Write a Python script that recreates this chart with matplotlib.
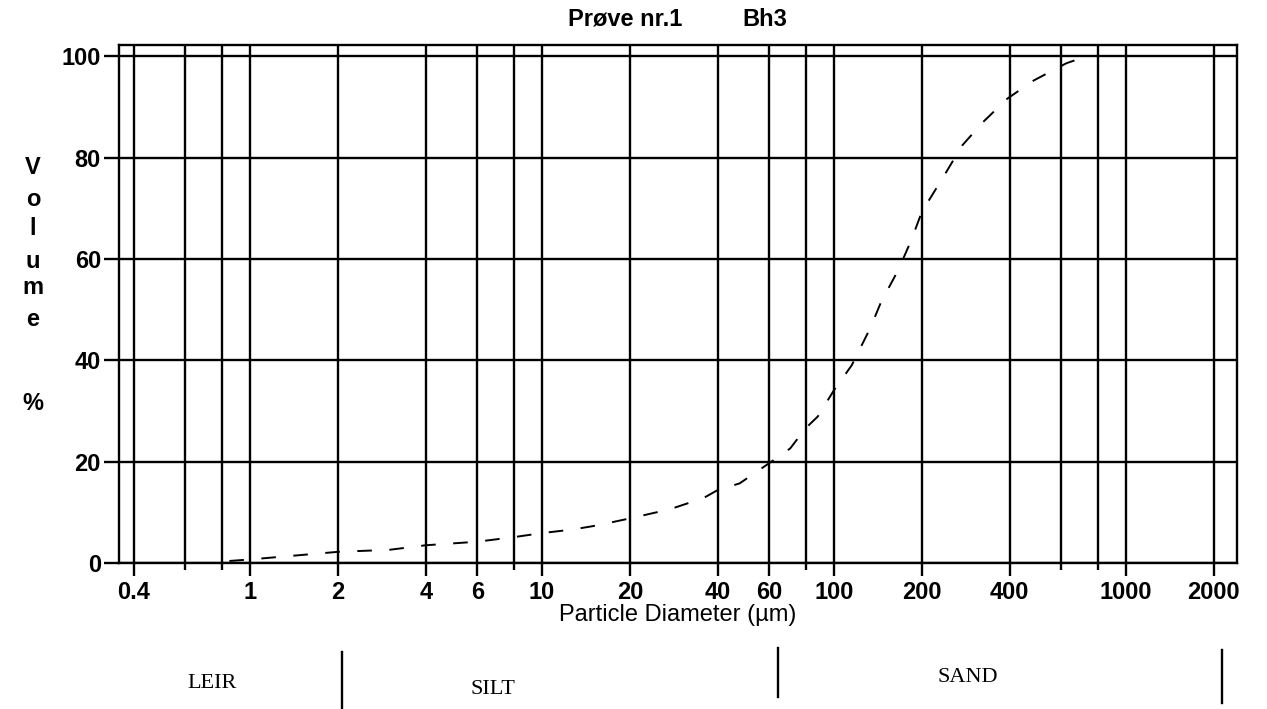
import numpy as np
import matplotlib
matplotlib.use("Agg")
import matplotlib.pyplot as plt
from matplotlib.ticker import FixedLocator, NullFormatter

plt.rcParams['font.family'] = ['Liberation Sans', 'DejaVu Sans']

# cumulative volume curve
diameter = [0.85, 1, 2, 3, 4, 6, 8, 10, 12.7, 15.4, 20, 27.4, 35.7, 40, 47.5, 60,
            70.8, 80, 88, 100, 115, 133, 145, 166, 184, 200, 237, 275, 324, 392,
            483, 625, 670]
volume = [0.4, 0.7, 2.2, 2.6, 3.5, 4.2, 5.1, 5.9, 6.6, 7.4, 8.8, 10.6, 12.8, 14.4,
          15.7, 19.7, 22.6, 26.6, 28.9, 34.1, 39.0, 46.3, 51.5, 57.8, 63.7, 69.3,
          76.2, 82.4, 87.0, 91.6, 95.2, 98.6, 99.2]

major_ticks = [0.4, 1, 2, 4, 6, 10, 20, 40, 60, 100, 200, 400, 1000, 2000]
major_labels = ['0.4', '1', '2', '4', '6', '10', '20', '40', '60', '100', '200',
                '400', '1000', '2000']
minor_ticks = [0.6, 0.8, 8, 80, 600, 800]
y_ticks = [0, 20, 40, 60, 80, 100]

title_left = 'Prøve nr.1'
title_right = 'Bh3'
xlabel = 'Particle Diameter (µm)'
classes = ['LEIR', 'SILT', 'SAND']

W, H = 1267, 709
fig = plt.figure(figsize=(W / 100, H / 100), dpi=100)
ax = fig.add_axes([119 / W, 1 - 563 / H, (1237 - 119) / W, (563 - 45) / H])

ax.set_xscale('log')
ax.set_xlim(0.356, 2400)
ax.set_ylim(0, 102.2)

ax.xaxis.set_major_locator(FixedLocator(major_ticks))
ax.set_xticklabels(major_labels)
ax.xaxis.set_minor_locator(FixedLocator(minor_ticks))
ax.xaxis.set_minor_formatter(NullFormatter())
ax.set_yticks(y_ticks)

lw = 1.7
for t in major_ticks + minor_ticks:
    ax.axvline(t, color='black', lw=lw, zorder=1)
for t in y_ticks:
    ax.axhline(t, color='black', lw=lw, zorder=1)

ax.tick_params(axis='x', which='major', length=9, width=lw, direction='out',
               pad=4, labelsize=17)
ax.tick_params(axis='x', which='minor', length=5, width=lw, direction='out')
ax.tick_params(axis='y', length=11, width=lw, direction='out', pad=2, labelsize=17)
for lab in ax.get_xticklabels() + ax.get_yticklabels():
    lab.set_fontweight('bold')
for s in ax.spines.values():
    s.set_linewidth(lw)

ax.plot(diameter, volume, color='black', lw=1.4, dashes=(7.5, 9), zorder=3)

fig.text(568 / W, 1 - 19 / H, title_left, fontsize=17, fontweight='bold',
         ha='left', va='center')
fig.text(742 / W, 1 - 19 / H, title_right, fontsize=17, fontweight='bold',
         ha='left', va='center')

ax.set_xlabel(xlabel, fontsize=17, labelpad=0)

# vertical "Volume %" label, one letter per line
ylab_letters = ['V', 'o', 'l', 'u', 'm', 'e', '%']
ylab_pos = [167, 199, 229, 261, 288, 320, 403]
for ch, yy in zip(ylab_letters, ylab_pos):
    fig.text(33 / W, 1 - yy / H, ch, fontsize=17, fontweight='bold',
             ha='center', va='center')

# soil class band under the axis
serif = ['Liberation Serif', 'DejaVu Serif']
fig.text(212 / W, 1 - 683 / H, classes[0], fontsize=16, family=serif,
         ha='center', va='center')
fig.text(493 / W, 1 - 690 / H, classes[1], fontsize=16, family=serif,
         ha='center', va='center')
fig.text(968 / W, 1 - 677 / H, classes[2], fontsize=16, family=serif,
         ha='center', va='center')
for xx, y0, y1 in [(342, 652, 709), (778, 648, 697), (1222, 650, 703)]:
    fig.add_artist(plt.Line2D([xx / W, xx / W], [1 - y0 / H, 1 - y1 / H],
                              color='black', lw=1.7))

fig.savefig('out.png', dpi=100)
